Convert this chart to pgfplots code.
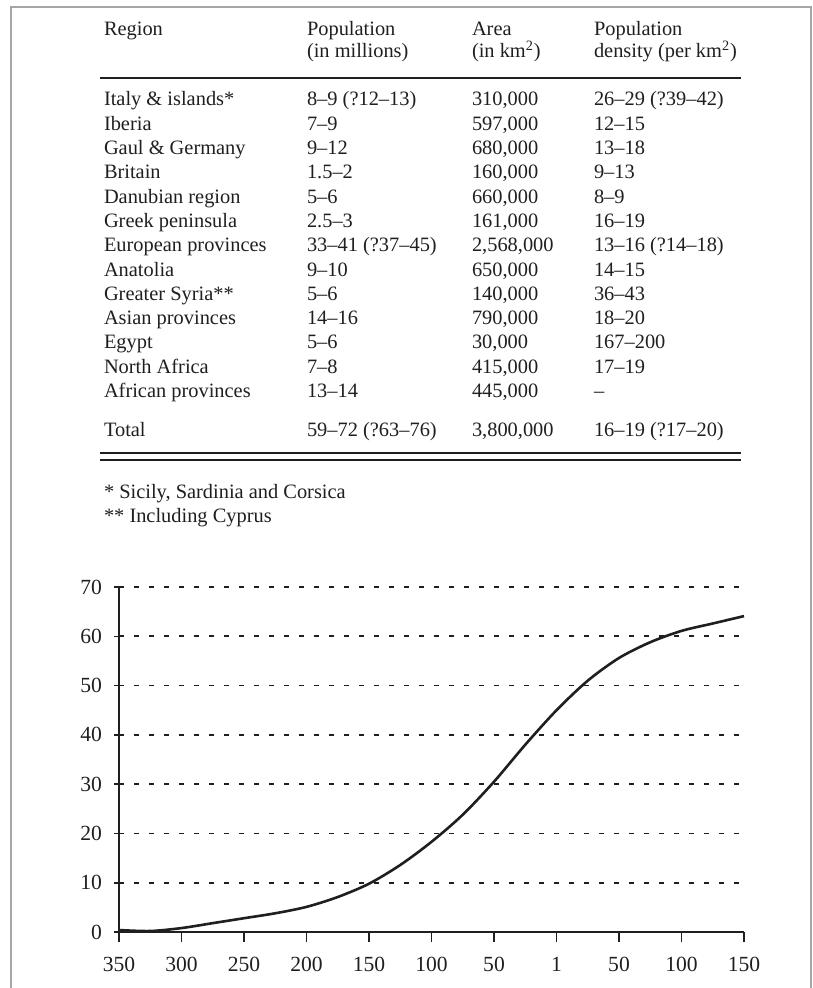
\documentclass[border=0pt]{standalone}
\usepackage{fontspec}
\setmainfont{Liberation Serif}
\usepackage{pgfplots}
\pgfplotsset{compat=1.18}
\definecolor{ink}{gray}{0.12}
\begin{document}
\begin{tikzpicture}
\begin{scope}[x=0.5pt,y=-0.5pt,every node/.style={inner sep=0pt,outer sep=0pt,text=ink,font=\fontsize{10.2}{12}\selectfont}]
\useasboundingbox (0,0) rectangle (812,988);
% frame
\draw[gray!70,line width=0.6pt] (11,988) -- (11,7) -- (811,7) -- (811,988);
% header
\node[anchor=base west] at (104,36) {Region};
\node[anchor=base west] at (307,36) {Population};
\node[anchor=base west] at (307,58) {(in millions)};
\node[anchor=base west] at (472,36) {Area};
\node[anchor=base west] at (472,58) {(in km\textsuperscript{2})};
\node[anchor=base west] at (594,36) {Population};
\node[anchor=base west] at (594,58) {density (per km\textsuperscript{2})};
\draw[ink,line width=1.1pt] (100,78) -- (741,78);
% rows
\foreach \r/\a/\b/\c/\d [count=\i from 0] in {
 {Italy \& islands*}/{8--9 (?12--13)}/{310,000}/{26--29 (?39--42)},
 {Iberia}/{7--9}/{597,000}/{12--15},
 {Gaul \& Germany}/{9--12}/{680,000}/{13--18},
 {Britain}/{1.5--2}/{160,000}/{9--13},
 {Danubian region}/{5--6}/{660,000}/{8--9},
 {Greek peninsula}/{2.5--3}/{161,000}/{16--19},
 {European provinces}/{33--41 (?37--45)}/{2,568,000}/{13--16 (?14--18)},
 {Anatolia}/{9--10}/{650,000}/{14--15},
 {Greater Syria**}/{5--6}/{140,000}/{36--43},
 {Asian provinces}/{14--16}/{790,000}/{18--20},
 {Egypt}/{5--6}/{30,000}/{167--200},
 {North Africa}/{7--8}/{415,000}/{17--19},
 {African provinces}/{13--14}/{445,000}/{--}}
{
 \pgfmathsetmacro{\yy}{106+24.3*\i}
 \node[anchor=base west] at (104,\yy) {\r};
 \node[anchor=base west] at (307,\yy) {\a};
 \node[anchor=base west] at (472,\yy) {\b};
 \node[anchor=base west] at (594,\yy) {\c};
}
\node[anchor=base west] at (104,436) {Total};
\node[anchor=base west] at (307,436) {59--72 (?63--76)};
\node[anchor=base west] at (472,436) {3,800,000};
\node[anchor=base west] at (594,436) {16--19 (?17--20)};
\draw[ink,line width=0.6pt] (100,453) -- (741,453);
\draw[ink,line width=0.6pt] (100,460) -- (741,460);
% footnotes
\node[anchor=base west] at (104,498) {* Sicily, Sardinia and Corsica};
\node[anchor=base west] at (104,522) {** Including Cyprus};
\end{scope}
\begin{axis}[
  at={(59.5pt,-466pt)}, anchor=south west,
  scale only axis, width=312.5pt, height=172.5pt,
  xmin=-350, xmax=150, ymin=0, ymax=70,
  axis x line=bottom, axis y line=left,
  axis line style={-, line width=1pt, ink},
  xtick={-350,-300,-250,-200,-150,-100,-50,0,50,100,150},
  xticklabels={350,300,250,200,150,100,50,1,50,100,150},
  ytick={0,10,...,70},
  tick align=outside, major tick length=5pt,
  tick style={ink, line width=0.8pt},
  y tick style={xshift=2.5pt},
  ymajorgrids,
  major grid style={ink, line width=0.85pt, dash pattern=on 2.4pt off 5.1pt},
  tick label style={font=\fontsize{10.8}{12}\selectfont, text=ink},
  /pgf/number format/assume math mode=true,
  xticklabel style={yshift=-4pt},
  clip=false,
]
\addplot[ink, line width=1.3pt, smooth] coordinates {
(-350,0.4) (-325,0.2) (-300,0.8) (-275,1.8) (-250,2.8) (-225,3.8)
(-200,5.1) (-175,7.1) (-150,9.8) (-125,13.6) (-100,18.3) (-75,23.8)
(-50,30.5) (-25,38) (0,45) (25,51) (50,55.6) (75,58.8)
(100,61.1) (125,62.6) (150,64.1)
};
\end{axis}
\end{tikzpicture}
\end{document}
